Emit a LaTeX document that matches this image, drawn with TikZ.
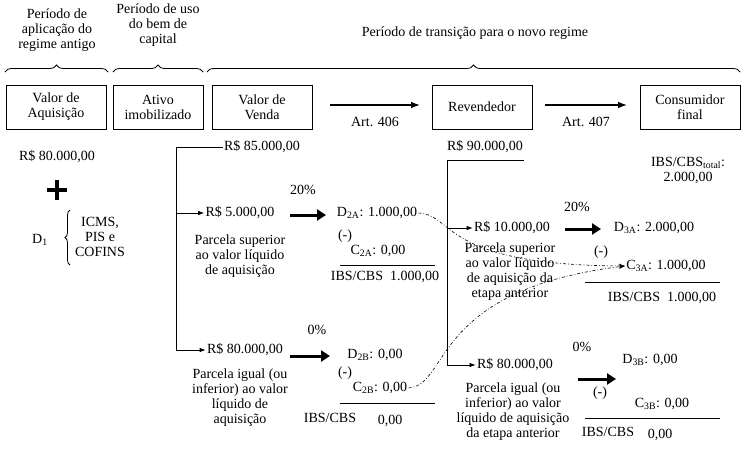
\documentclass[tikz,border=0pt]{standalone}
\usepackage{fontspec}
\setmainfont{Liberation Serif}
\usetikzlibrary{decorations.pathreplacing,arrows.meta}

\begin{document}
\begin{tikzpicture}[x=1pt,y=-1pt,font=\fontsize{14}{15}\selectfont,line width=0.8pt,
  every node/.style={inner sep=1pt,align=center},
  stagebox/.style={draw,minimum width=100pt,minimum height=44pt},
  bigarrow/.style={-{Triangle[length=9pt,width=11pt]},line width=3pt},
  artarrow/.style={-{Latex[length=9pt]},line width=1.5pt},
  branch/.style={-{Latex[length=6pt]}},
  link/.style={dash dot,line width=0.6pt,-{Stealth[length=6pt]}},
  topbrace/.style={decorate,decoration={brace,amplitude=7pt}}]
  \useasboundingbox (0,0) rectangle (745,459);

  % periods
  \node (antigo) at (57,30) {Período de\\aplicação do\\regime antigo};
  \node (uso) at (158,25) {Período de uso\\do bem de\\capital};
  \node (trans) at (475,33) {Período de transição para o novo regime};
  \draw[topbrace] (5,72) -- (108,72);
  \draw[topbrace] (113,72) -- (203,72);
  \draw[topbrace] (207,72) -- (740,72);

  % stages
  \node[stagebox] (aquis) at (56,107) {Valor de\\Aquisição};
  \node[stagebox,minimum width=90pt] (ativo) at (158,107) {Ativo\\imobilizado};
  \node[stagebox] (venda) at (262,107) {Valor de\\Venda};
  \node[stagebox] (rev) at (482,107) {Revendedor};
  \node[stagebox] (cons) at (690,107) {Consumidor\\final};
  \coordinate (a1) at (330,105); \coordinate (a2) at (420,105);
  \draw[artarrow] (a1) -- (a2) node[midway,below=10pt] (art406) {Art. 406};
  \coordinate (b1) at (545,105); \coordinate (b2) at (627,105);
  \draw[artarrow] (b1) -- (b2) node[midway,below=10pt] (art407) {Art. 407};

  % regime antigo
  \node (v80) at (57,157) {R\$ 80.000,00};
  \node (plus) at (57,190) {};
  \draw[line width=4.5pt] (47,190) -- (67,190) (57,180) -- (57,200);
  \node (d1) at (40,240) {D\textsubscript{1}};
  \node (tributos) at (100,237) {ICMS,\\PIS e\\COFINS};
  \draw[decorate,decoration={brace,amplitude=5pt}] (70,265) -- (70,210);

  % valor de venda
  \node (v85) at (262,147) {R\$ 85.000,00};
  \coordinate (t2) at (176,147);
  \node (v5) at (240,213) {R\$ 5.000,00};
  \node (v80b) at (245,350) {R\$ 80.000,00};
  \draw (v85.west) -- (t2) -- (t2 |- v80b);
  \draw[branch] (t2 |- v5) -- (v5.west);
  \draw[branch] (t2 |- v80b) -- (v80b.west);
  \node (sup2) at (240,256) {Parcela superior\\ao valor líquido\\de aquisição};
  \node (inf2) at (240,398) {Parcela igual (ou\\inferior) ao valor\\líquido de\\aquisição};

  \node (p20a) at (303,190) {20\%};
  \draw[bigarrow] (290,215) -- (326,215);
  \node (d2a) at (377,213) {D\textsubscript{2A}: 1.000,00};
  \node (m2a) at (345,236) {(-)};
  \node (c2a) at (378,251) {C\textsubscript{2A}: 0,00};
  \draw (340,265) -- (435,265);
  \node (r2a) at (385,277) {IBS/CBS\ \ 1.000,00};

  \node (p0a) at (317,330) {0\%};
  \draw[bigarrow] (290,356) -- (330,356);
  \node (d2b) at (375,355) {D\textsubscript{2B}: 0,00};
  \node (m2b) at (345,373) {(-)};
  \node (c2b) at (380,388) {C\textsubscript{2B}: 0,00};
  \draw (340,403) -- (435,403);
  \node (r2b) at (330,418) {IBS/CBS};
  \node (z2b) at (390,421) {0,00};

  % revendedor
  \node (v90) at (485,147) {R\$ 90.000,00};
  \coordinate (t3) at (447,160);
  \node (v10) at (512,228) {R\$ 10.000,00};
  \node (v80c) at (515,365) {R\$ 80.000,00};
  \draw (t3) -- (t3 |- v80c);
  \draw (t3) -- (t3 -| v90.east);
  \draw[branch] (t3 |- v10) -- (v10.west);
  \draw[branch] (t3 |- v80c) -- (v80c.west);
  \node (sup3) at (510,272) {Parcela superior\\ao valor líquido\\de aquisição da\\etapa anterior};
  \node (inf3) at (513,412) {Parcela igual (ou\\inferior) ao valor\\líquido de aquisição\\da etapa anterior};

  \node (p20b) at (577,207) {20\%};
  \draw[bigarrow] (565,229) -- (601,229);
  \node (d3a) at (654,228) {D\textsubscript{3A}: 2.000,00};
  \node (m3a) at (601,252) {(-)};
  \node (c3a) at (666,266) {C\textsubscript{3A}: 1.000,00};
  \draw (585,282) -- (720,282);
  \node (r3a) at (662,298) {IBS/CBS\ \ 1.000,00};
  \node (total) at (688,170) {IBS/CBS\textsubscript{total}:\\2.000,00};

  \node (p0b) at (582,347) {0\%};
  \draw[bigarrow] (578,379) -- (616,379);
  \node (d3b) at (650,360) {D\textsubscript{3B}: 0,00};
  \node (m3b) at (600,393) {(-)};
  \node (c3b) at (662,404) {C\textsubscript{3B}: 0,00};
  \draw (585,418) -- (720,418);
  \node (r3b) at (608,432) {IBS/CBS};
  \node (z3b) at (660,435) {0,00};

  % credit links
  \draw[link] (d2a.east) .. controls (455,215) and (440,265) .. (c3a.west);
  \draw[link] (c2b.east) .. controls (450,385) and (430,290) .. (c3a.west);
\end{tikzpicture}
\end{document}
